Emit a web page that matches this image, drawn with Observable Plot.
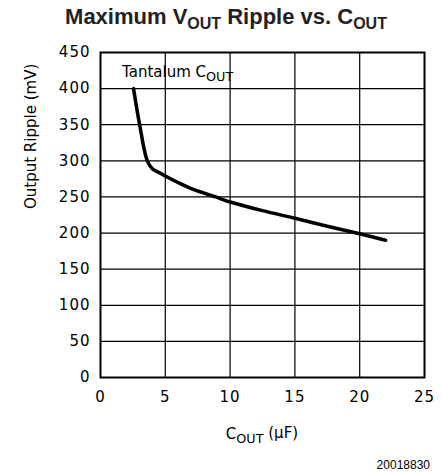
<!DOCTYPE html>
<html>
<head>
<meta charset="utf-8">
<script src="https://cdn.jsdelivr.net/npm/d3@7"></script>
<script src="https://cdn.jsdelivr.net/npm/@observablehq/plot@0.6"></script>
<style>
  body { margin: 0; background: #fff; }
  #wrap { position: relative; width: 442px; height: 474px; overflow: hidden; }
  #title { position: absolute; left: 0; width: 452px; top: 4px; text-align: center;
    font-family: "Liberation Sans", Arial, sans-serif; font-weight: bold; font-size: 22px; color: #222; white-space: nowrap; }
  #title .sub { font-size: 16px; position: relative; top: 5px; }
  #chart { position: absolute; left: 0; top: 0; }
</style>
</head>
<body>
<div id="wrap">
  <div id="chart"></div>
  <div id="title">Maximum V<span class="sub">OUT</span> Ripple vs. C<span class="sub">OUT</span></div>
</div>
<script>
const cout = [2.55, 3.02, 3.61, 4.0, 4.5, 5, 6.2, 7.2, 8.9, 10, 12.5, 15, 17.5, 20, 22];
const ripple = [400, 350, 300, 289, 284, 279, 268, 260, 250, 243, 231, 220.5, 209.5, 199, 190];
const xTicks = [0, 5, 10, 15, 20, 25];
const yTicks = [0, 50, 100, 150, 200, 250, 300, 350, 400, 450];

const data = cout.map((c, i) => ({c, r: ripple[i]}));
const font = "DejaVu Sans, sans-serif";

const plot = Plot.plot({
  width: 442,
  height: 474,
  marginLeft: 100,
  marginRight: 18,
  marginTop: 52,
  marginBottom: 97,
  style: {fontFamily: font, fontSize: "15px", color: "#000", background: "#fff"},
  x: {domain: [0, 25], ticks: xTicks, tickSize: 0, tickPadding: 14, label: null},
  y: {domain: [0, 450], ticks: yTicks, tickSize: 0, tickPadding: 10, label: null},
  marks: [
    Plot.ruleX(xTicks.slice(1, -1), {stroke: "#000", strokeWidth: 1.2}),
    Plot.ruleY(yTicks.slice(1, -1), {stroke: "#000", strokeWidth: 1.2}),
    Plot.frame({stroke: "#000", strokeWidth: 2}),
    Plot.line(data, {x: "c", y: "r", curve: "catmull-rom", stroke: "#000", strokeWidth: 3.5}),
    Plot.text(["Output Ripple (mV)"], {frameAnchor: "left", dx: -69, dy: -6, rotate: -90, fontSize: 15, fontFamily: font, fill: "#000"})
  ]
});
document.getElementById("chart").appendChild(plot);

const svg = d3.select(plot);
svg.selectAll("g[aria-label='x-axis tick label'] text, g[aria-label='y-axis tick label'] text")
  .attr("letter-spacing", "1px");

const sx = plot.scale("x"), sy = plot.scale("y");

function subText(x, y, main, sub, tail, size, anchor) {
  const t = svg.append("text")
    .attr("x", x).attr("y", y)
    .attr("font-family", font).attr("font-size", size)
    .attr("text-anchor", anchor).attr("fill", "#000");
  t.append("tspan").text(main);
  t.append("tspan").attr("dy", "0.3em").attr("font-size", size * 0.85).text(sub);
  if (tail) t.append("tspan").attr("dy", "-0.3em").text(tail);
  return t;
}
subText(sx.apply(1.7), sy.apply(415), "Tantalum C", "OUT", null, 15, "start");
subText((sx.apply(0) + sx.apply(25)) / 2, 439, "C", "OUT", " (\u03BCF)", 15, "middle");

svg.append("text")
  .attr("x", 430).attr("y", 469)
  .attr("text-anchor", "end")
  .attr("font-family", "Liberation Sans, Arial, sans-serif")
  .attr("font-size", 12).attr("fill", "#000")
  .text("20018830");
</script>
</body>
</html>
